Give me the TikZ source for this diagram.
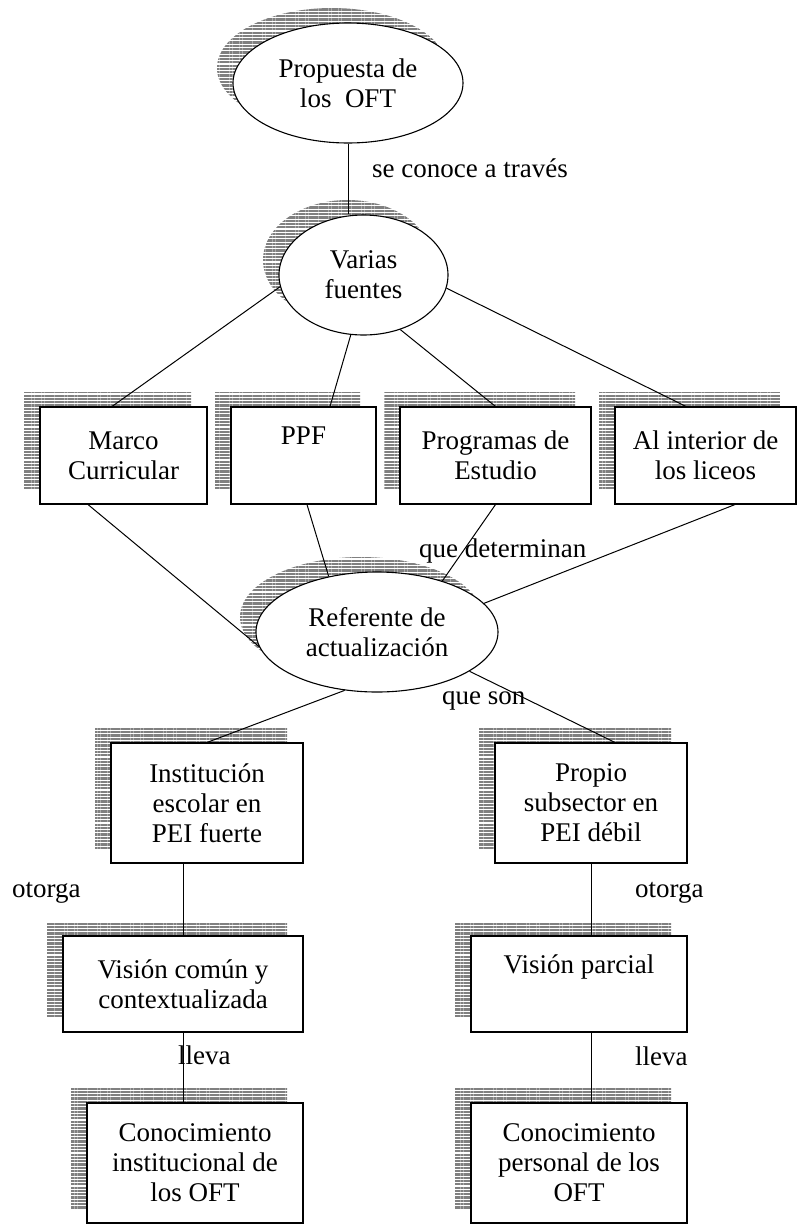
\documentclass[tikz,border=0pt]{standalone}
\usepackage{fontspec}
\setmainfont{Liberation Serif}
\usetikzlibrary{shapes.geometric,shadows,patterns.meta}

\begin{document}
\begin{tikzpicture}[x=1pt,y=-1pt,
                every node/.style={font=\fontsize{27}{30}\selectfont},
                hatch/.style={general shadow={shadow xshift=-16pt,shadow yshift=15pt,
                    pattern={Lines[angle=0,distance=3.3pt,line width=2.2pt]},pattern color=gray}},
                concept/.style={draw,ellipse,fill=white,line width=1.1pt,hatch,align=center,inner sep=0pt},
                item/.style={draw,rectangle,fill=white,line width=1.1pt,hatch,align=center,inner sep=0pt},
                link/.style={line width=1pt},
                tag/.style={inner sep=0pt,anchor=base west}]
  \useasboundingbox (0,0) rectangle (797,1224);
  % ellipses
  \node[concept,minimum width=230pt,minimum height=120pt] (oft) at (348,83)    { Propuesta de\\los~ OFT };
  \node[concept,minimum width=169pt,minimum height=120pt] (vf)  at (363.5,275) { Varias\\fuentes };
  \node[concept,minimum width=242pt,minimum height=120pt] (ref) at (377,632)   { Referente de\\actualización };
  % sources
  \node[item,minimum width=167pt,minimum height=97pt] (marco)  at (123.5,455.5) { Marco\\Curricular };
  \node[item,minimum width=145pt,minimum height=97pt] (ppf)    at (303.5,455.5) { PPF\\\strut };
  \node[item,minimum width=191pt,minimum height=97pt] (prog)   at (495.5,455.5) { Programas de\\Estudio };
  \node[item,minimum width=181pt,minimum height=97pt] (liceos) at (705.5,455.5) { Al interior de\\los liceos };
  % two branches
  \node[item,minimum width=192pt,minimum height=120pt] (inst)   at (207,803)  { Institución\\escolar en\\PEI fuerte };
  \node[item,minimum width=192pt,minimum height=120pt] (propio) at (591,803)  { Propio\\subsector en\\PEI débil };
  \node[item,minimum width=240pt,minimum height=96pt]  (vcomun) at (183,984)  { Visión común y\\contextualizada };
  \node[item,minimum width=216pt,minimum height=96pt]  (vparc)  at (579,984)  { Visión parcial\\\strut };
  \node[item,minimum width=216pt,minimum height=120pt] (cinst)  at (195,1163) { Conocimiento\\institucional de\\los OFT };
  \node[item,minimum width=216pt,minimum height=120pt] (cpers)  at (579,1163) { Conocimiento\\personal de los\\OFT };

  \draw[link] (oft.south) -- (oft.south |- vf.north);
  \draw[link] (vf.188.85) -- ([xshift=-11.5pt]marco.north);
  \draw[link] (vf.258) -- ([xshift=26.5pt]ppf.north);
  \draw[link] (vf.304) -- (prog.north);
  \draw[link] (vf.351) -- ([xshift=-19.5pt]liceos.north);

  \draw[link] ([xshift=-35.5pt]marco.south) -- (ref.187);
  \draw[link] ([xshift=3.5pt]ppf.south) -- (ref.131.3);
  \draw[link] (prog.south) -- (ref.38.7);
  \draw[link] ([xshift=29.5pt]liceos.south) -- (ref.15);

  \draw[link] (ref.241) -- (inst.north);
  \draw[link] (ref.337.7) -- ([xshift=24pt]propio.north);

  \draw[link] (vcomun.north |- inst.south) -- (vcomun.north);
  \draw[link] (vcomun.south) -- (vcomun.south |- cinst.north);
  \draw[link] (propio.south) -- (propio.south |- vparc.north);
  \draw[link] (vparc.south -| propio.south) -- (cpers.north -| propio.south);

  % labels
  \node[tag] (l1) at (372,177)  {se conoce a través};
  \node[tag] (l2) at (419,557)  {que determinan};
  \node[tag] (l3) at (442,704)  {que son};
  \node[tag] (l4) at (12,897)   {otorga};
  \node[tag] (l5) at (635,897)  {otorga};
  \node[tag] (l6) at (178,1064) {lleva};
  \node[tag] (l7) at (635,1065) {lleva};
\end{tikzpicture}
\end{document}
